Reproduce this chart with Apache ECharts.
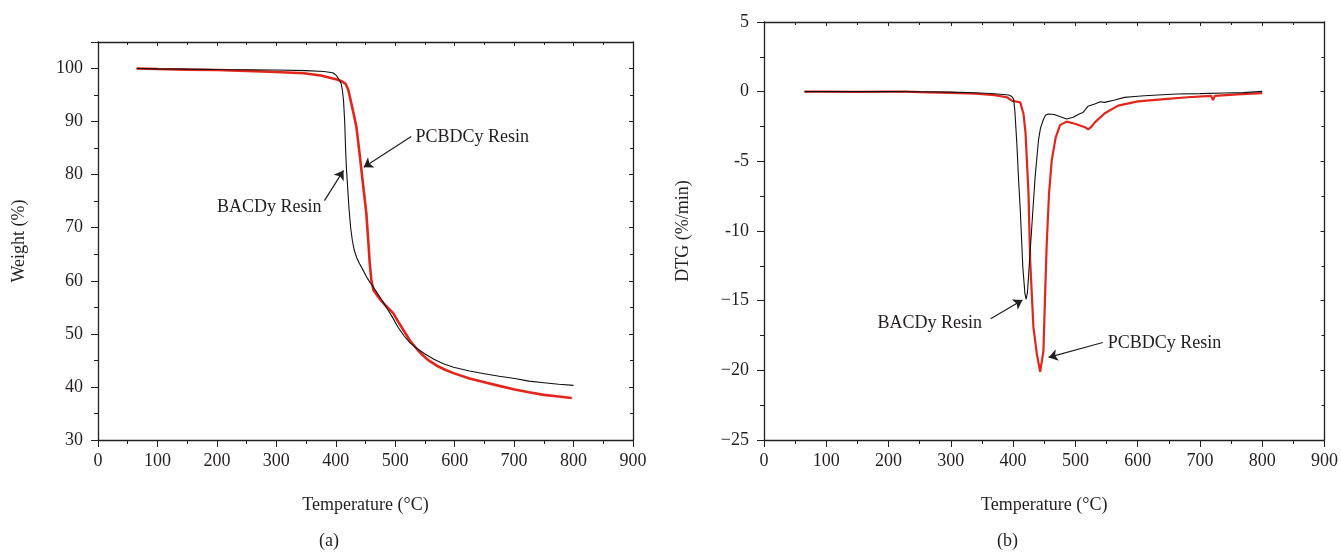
<!DOCTYPE html>
<html>
<head>
<meta charset="utf-8">
<script src="https://cdn.jsdelivr.net/npm/echarts@6/dist/echarts.min.js"></script>
<style>
  html, body { margin: 0; padding: 0; background: #fff; }
  #main { width: 1341px; height: 554px; }
</style>
</head>
<body>
<div id="main"></div>
<script>
// (a) TGA curves
var tgaTempBACDy = [65, 100, 150, 200, 250, 300, 350, 380, 395, 401, 405, 409, 411, 413, 415, 416.6, 418, 420, 422, 425, 428, 431, 435, 440, 445, 453, 460, 468, 475, 485, 495, 505, 515, 525, 536, 550, 565, 580, 598, 625, 650, 675, 701, 725, 750, 775, 800];
var tgaWeightBACDy = [100, 99.93, 99.88, 99.82, 99.78, 99.72, 99.6, 99.45, 99.2, 98.7, 98.0, 97.2, 96, 94, 90, 84.6, 81, 77.6, 74, 70, 67.5, 65.8, 64.4, 63.2, 62.2, 60.5, 59.3, 58, 56.8, 55, 53.2, 51.2, 49.6, 48.3, 47.3, 46.2, 45.2, 44.4, 43.7, 43, 42.5, 42, 41.6, 41.1, 40.8, 40.5, 40.3];

var tgaTempPCBDCy = [65, 100, 150, 200, 250, 300, 346, 375, 400, 410, 416.6, 421, 425, 430, 434.7, 440, 445, 451.4, 455, 457, 460, 463.6, 470, 474.8, 485, 496.6, 505, 515, 525, 536, 545, 555, 570, 585, 598, 625, 650, 675, 701, 725, 750, 775, 797];
var tgaWeightPCBDCy = [100, 99.9, 99.8, 99.72, 99.55, 99.35, 99.1, 98.7, 98.0, 97.6, 97.1, 96.0, 94, 91.5, 89, 84, 79, 72.7, 67, 63.5, 60, 58.2, 57.2, 56.5, 55.2, 53.9, 52.3, 50.5, 48.7, 47.2, 46.1, 45.1, 44.0, 43.2, 42.6, 41.6, 40.9, 40.2, 39.5, 39.0, 38.5, 38.2, 37.9];

// (b) DTG curves
var dtgTempBACDy = [65, 100, 150, 200, 250, 300, 340, 370, 393, 398, 401, 403, 406, 409, 411.5, 415.6, 419, 421, 423, 424.7, 430, 435.4, 440.7, 444, 448.7, 452, 456.6, 462, 467, 476, 486, 496.7, 506, 512, 515, 520, 523, 531, 540, 547, 563, 579, 595, 611, 640, 664, 700, 740, 770, 800];
var dtgRateBACDy = [0, 0.01, 0, 0, -0.01, -0.03, -0.08, -0.15, -0.24, -0.35, -0.55, -1.5, -3.75, -6.5, -8.5, -12.6, -14.5, -14.9, -14.4, -13.3, -9.7, -6.1, -3.5, -2.6, -2.0, -1.7, -1.6, -1.62, -1.65, -1.8, -1.96, -1.84, -1.6, -1.5, -1.36, -1.05, -1.1, -0.88, -0.72, -0.77, -0.6, -0.41, -0.35, -0.29, -0.22, -0.17, -0.14, -0.1, -0.07, 0.02];

var dtgTempPCBDCy = [65, 100, 150, 200, 222, 225, 228, 250, 300, 340, 370, 390, 398, 411.5, 416.7, 420, 424.7, 427.4, 432.6, 438, 443.4, 448.7, 451.4, 454, 457.7, 462, 468.3, 475.3, 485.9, 499.3, 515.3, 520.5, 525, 531.2, 547.2, 568.6, 600.5, 643, 680, 718, 721, 724, 760, 800];
var dtgRatePCBDCy = [0, 0, -0.02, 0, 0, 0.08, 0, -0.03, -0.08, -0.15, -0.25, -0.4, -0.65, -0.77, -1.6, -3, -7.3, -12.1, -16.9, -18.8, -20.1, -18.6, -14.5, -10.9, -7.3, -4.95, -3.3, -2.4, -2.15, -2.3, -2.55, -2.7, -2.55, -2.2, -1.55, -1.0, -0.7, -0.53, -0.4, -0.3, -0.6, -0.3, -0.2, -0.1];

var xTicks = { min: 0, max: 900, interval: 100 };
var weightTicks = { min: 30, max: 105, interval: 10 };
var dtgTicks = { min: -25, max: 5, interval: 5 };

var FONT = '"Liberation Serif", "DejaVu Serif", serif';
var FS = 18;
var INK = '#231f20';
var RED = '#e2261c';

function pairs(xs, ys) {
  return xs.map(function (x, i) { return [x, ys[i]]; });
}

function mainX(grid, name) {
  return {
    type: 'value', gridIndex: grid, min: xTicks.min, max: xTicks.max, interval: xTicks.interval,
    name: name, nameLocation: 'middle', nameGap: 56,
    nameTextStyle: { fontFamily: FONT, fontSize: FS, color: INK },
    axisLine: { show: true, onZero: false, lineStyle: { color: INK, width: 1.3 } },
    axisTick: { show: true, length: 7, lineStyle: { color: INK } },
    minorTick: { show: true, splitNumber: 2, length: 4, lineStyle: { color: INK } },
    axisLabel: { margin: 12, fontFamily: FONT, fontSize: FS, color: INK },
    splitLine: { show: false }
  };
}

function boxX(grid) {
  return {
    type: 'value', gridIndex: grid, position: 'top', min: xTicks.min, max: xTicks.max, interval: xTicks.interval,
    axisLine: { show: true, onZero: false, lineStyle: { color: INK, width: 1.3 } },
    axisTick: { show: true, inside: true, length: 4, lineStyle: { color: INK } },
    minorTick: { show: true, splitNumber: 2, length: 3, lineStyle: { color: INK } },
    axisLabel: { show: false },
    splitLine: { show: false }
  };
}

function mainY(grid, ticks, name, gap, fmt) {
  return {
    type: 'value', gridIndex: grid, min: ticks.min, max: ticks.max, interval: ticks.interval,
    name: name, nameLocation: 'middle', nameGap: gap,
    nameTextStyle: { fontFamily: FONT, fontSize: FS, color: INK },
    axisLine: { show: true, onZero: false, lineStyle: { color: INK, width: 1.3 } },
    axisTick: { show: true, length: 7, lineStyle: { color: INK } },
    minorTick: { show: true, splitNumber: 2, length: 4, lineStyle: { color: INK } },
    axisLabel: { margin: 15, fontFamily: FONT, fontSize: FS, color: INK, showMaxLabel: ticks.max % ticks.interval === 0, formatter: fmt },
    splitLine: { show: false }
  };
}

function boxY(grid, ticks) {
  return {
    type: 'value', gridIndex: grid, position: 'right', min: ticks.min, max: ticks.max, interval: ticks.interval,
    axisLine: { show: true, onZero: false, lineStyle: { color: INK, width: 1.3 } },
    axisTick: { show: true, inside: true, length: 4, lineStyle: { color: INK } },
    minorTick: { show: true, splitNumber: 2, length: 3, lineStyle: { color: INK } },
    axisLabel: { show: false },
    splitLine: { show: false }
  };
}

// arrow from the text to the curve, text placed next to the tail
function note(text, textAt, side, from, to) {
  return {
    markLine: {
      silent: true, symbol: ['none', 'arrow'], symbolSize: 9,
      lineStyle: { color: INK, width: 1.2, type: 'solid' },
      label: { show: false },
      data: [[{ coord: from }, { coord: to }]]
    },
    markPoint: {
      silent: true, symbol: 'circle', symbolSize: 0,
      label: { show: true, position: side, distance: 0, formatter: '{b}', fontFamily: FONT, fontSize: FS, color: INK },
      data: [{ name: text, coord: textAt }]
    }
  };
}

function dtgLabel(v) {
  if (v <= -15) return '\u2212' + Math.abs(v);
  return String(v);
}

function line(name, xi, yi, data, color, width, extra) {
  var s = {
    name: name, type: 'line', xAxisIndex: xi, yAxisIndex: yi, data: data,
    showSymbol: false, symbol: 'none', smooth: false,
    lineStyle: { color: color, width: width }, z: width > 1.5 ? 2 : 3
  };
  if (extra) {
    s.markLine = extra.markLine;
    s.markPoint = extra.markPoint;
  }
  return s;
}

var chart = echarts.init(document.getElementById('main'), null, { renderer: 'canvas' });

var option = {
  backgroundColor: '#fff',
  animation: false,
  grid: [
    { left: 98, right: 708, top: 42, bottom: 114 },
    { left: 764, right: 13, top: 22, bottom: 114 }
  ],
  xAxis: [mainX(0, 'Temperature (\u00b0C)'), boxX(0), mainX(1, 'Temperature (\u00b0C)'), boxX(1)],
  yAxis: [mainY(0, weightTicks, 'Weight (%)', 70), boxY(0, weightTicks), mainY(1, dtgTicks, 'DTG (%/min)', 72, dtgLabel), boxY(1, dtgTicks)],
  graphic: [
    { type: 'text', left: 319, top: 532, style: { text: '(a)', font: FS + 'px ' + FONT, fill: INK } },
    { type: 'text', left: 997, top: 532, style: { text: '(b)', font: FS + 'px ' + FONT, fill: INK } }
  ],
  series: [
    line('BACDy Resin', 0, 0, pairs(tgaTempBACDy, tgaWeightBACDy), '#111', 1.1,
      note('BACDy Resin', [376, 73.8], 'left', [381, 75.1], [413, 80.8])),
    line('PCBDCy Resin', 0, 0, pairs(tgaTempPCBDCy, tgaWeightPCBDCy), RED, 2.6,
      note('PCBDCy Resin', [534, 87.0], 'right', [527, 87.2], [447, 81.4])),
    line('BACDy Resin', 2, 2, pairs(dtgTempBACDy, dtgRateBACDy), '#111', 1.1,
      note('BACDy Resin', [350, -16.65], 'left', [364, -16.3], [415, -14.95])),
    line('PCBDCy Resin', 2, 2, pairs(dtgTempPCBDCy, dtgRatePCBDCy), RED, 2.2,
      note('PCBDCy Resin', [552, -18.07], 'right', [544, -18.0], [457, -19.07]))
  ]
};

chart.setOption(option);
</script>
</body>
</html>
